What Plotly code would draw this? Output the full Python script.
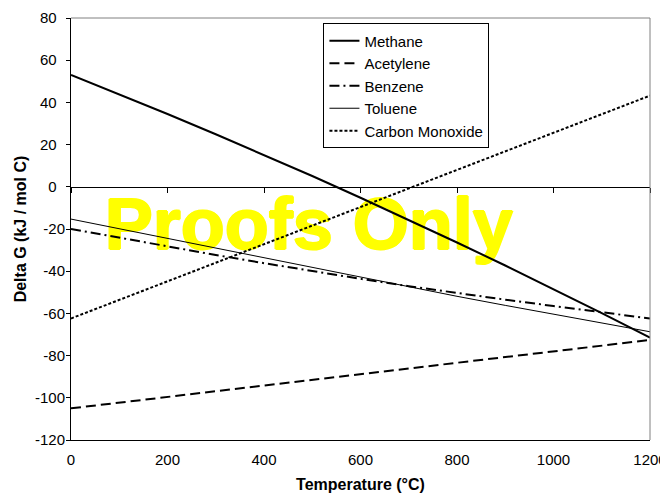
import plotly.graph_objects as go

temperature = [0, 100, 200, 300, 400, 500, 600, 700, 800, 900, 1000, 1100, 1200]
methane = [53, 43.9, 34.5, 24.9, 15.1, 5.1, -5.2, -15.7, -26.4, -37.3, -48.5, -59.9, -71.5]
acetylene = [-105, -102.3, -99.6, -96.9, -94.2, -91.5, -88.8, -86.1, -83.4, -80.7, -78, -75.3, -72.6]
benzene = [-20, -24.2, -28.3, -32.3, -36.2, -40, -43.6, -47.1, -50.4, -53.5, -56.5, -59.4, -62.4]
toluene = [-15.3, -19.9, -24.5, -29.1, -33.7, -38.3, -42.9, -47.4, -51.9, -56.2, -60.4, -64.6, -68.7]
carbon_monoxide = [-62.4, -53.6, -44.8, -36, -27.2, -18.4, -9.6, -0.8, 8, 16.8, 25.6, 34.4, 43.2]

x_ticks = [0, 200, 400, 600, 800, 1000, 1200]
y_ticks = [-120, -100, -80, -60, -40, -20, 0, 20, 40, 60, 80]

series = [
    ("Methane", methane, dict(color="black", width=2, dash="solid")),
    ("Acetylene", acetylene, dict(color="black", width=2, dash="10px,5px")),
    ("Benzene", benzene, dict(color="black", width=2, dash="10px,4px,2px,4px")),
    ("Toluene", toluene, dict(color="black", width=1, dash="solid")),
    ("Carbon Monoxide", carbon_monoxide, dict(color="black", width=2, dash="3px,2px")),
]

FONT = "Liberation Sans, Arial, sans-serif"
NB = "\u00a0"

def y_label(v):
    return str(v) if v < 0 else str(v) + NB + NB

fig = go.Figure()

# watermark (drawn beneath the data lines)
fig.add_trace(go.Scatter(
    x=[493], y=[-21], mode="text", text=["<b>Proofs Only</b>"],
    textfont=dict(family=FONT, size=72, color="#FFFF00",
                  shadow="1px 0 0 #FFFF00, -1px 0 0 #FFFF00, 0 1px 0 #FFFF00, 0 -1px 0 #FFFF00"),
    textposition="middle center", showlegend=False, hoverinfo="skip",
))

for i, (name, vals, line) in enumerate(series):
    fig.add_trace(go.Scatter(
        x=temperature, y=vals, mode="lines", name=name, line=line,
        legendgroup=f"g{i}",
    ))

# zero-crossing axis line with ticks
fig.add_trace(go.Scatter(x=[None], y=[None], xaxis="x2", showlegend=False, hoverinfo="skip"))

fig.update_layout(
    width=660, height=485,
    margin=dict(l=63, r=18, t=10, b=53, autoexpand=False),
    paper_bgcolor="white", plot_bgcolor="white",
    font=dict(family=FONT, size=15, color="black"),
    showlegend=True,
    legend=dict(
        x=0.436, y=0.987, xanchor="left", yanchor="top",
        bgcolor="white", bordercolor="black", borderwidth=1,
        font=dict(family=FONT, size=15, color="black"),
        tracegroupgap=0, entrywidth=125,
    ),
    xaxis=dict(
        range=[0, 1200], tickvals=x_ticks, ticktext=[str(v) for v in x_ticks],
        showline=True, linecolor="black", linewidth=1,
        ticks="outside", ticklen=6, tickcolor="rgba(0,0,0,0)",
        ticklabeloverflow="allow",
        showgrid=False, zeroline=False, automargin=True,
        title=dict(text="<b>Temperature (°C)</b>", font=dict(family=FONT, size=16), standoff=12),
        tickfont=dict(family=FONT, size=15),
    ),
    xaxis2=dict(
        range=[0, 1200], tickvals=x_ticks, overlaying="x", anchor="free", position=0.6,
        side="bottom", showline=True, linecolor="black", linewidth=1,
        ticks="outside", ticklen=5, tickcolor="black", showticklabels=False,
        showgrid=False, zeroline=False, automargin=False,
    ),
    yaxis=dict(
        range=[-120, 80], tickvals=y_ticks, ticktext=[y_label(v) for v in y_ticks],
        showline=True, linecolor="black", linewidth=1,
        ticks="outside", ticklen=4, tickcolor="black", ticklabelstandoff=-2,
        showgrid=False, zeroline=False, automargin=True,
        title=dict(text="<b>Delta G (kJ / mol C)</b>", font=dict(family=FONT, size=16), standoff=4),
        tickfont=dict(family=FONT, size=15),
    ),
    shapes=[
        dict(type="line", xref="paper", yref="paper", x0=0, x1=1, y0=1, y1=1,
             line=dict(color="#808080", width=1)),
        dict(type="line", xref="paper", yref="paper", x0=1, x1=1, y0=0, y1=1,
             line=dict(color="#808080", width=1)),
    ],
)

fig.write_html("out.html")
